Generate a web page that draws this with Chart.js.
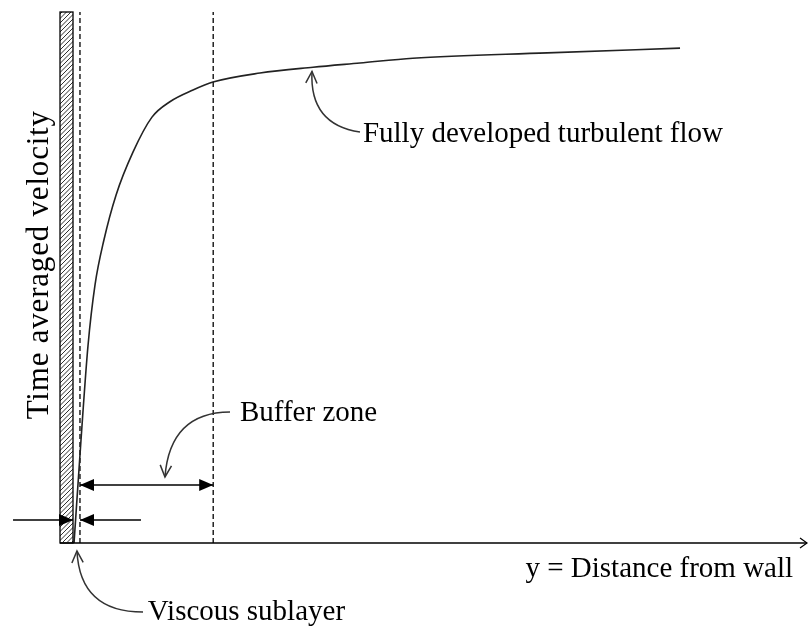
<!DOCTYPE html>
<html><head><meta charset="utf-8">
<script src="https://cdn.jsdelivr.net/npm/chart.js@4.4.0/dist/chart.umd.min.js"></script>
<style>html,body{margin:0;padding:0;background:#fff}#wrap{width:809px;height:627px}</style>
</head><body><div id="wrap"><canvas id="c" width="809" height="627"></canvas></div>
<script>
// Velocity profile (distance from wall vs time-averaged velocity), arbitrary units
const distance = [0.14, 1.09, 2.04, 3.0, 4.22, 5.86, 8.17, 10.76, 13.2, 16.35, 19.07, 25.48, 32.7, 39.1, 46.3, 64.6, 82.7];
const velocity = [0, 19.4, 37.1, 48.6, 57.1, 65.5, 73.6, 80.2, 83.1, 85.3, 86.8, 88.5, 89.6, 90.4, 91.3, 92.3, 93.2];
const zoneBounds = [0.95, 19.1];          // edge of viscous sublayer, edge of buffer zone
const wallThickness = 1.77;
const axisTitles = { x: 'y = Distance from wall', y: 'Time averaged velocity' };
const zoneLabels = ['Viscous sublayer', 'Buffer zone', 'Fully developed turbulent flow'];

const SERIF = '"Liberation Serif", "Times New Roman", serif';

const annotate = {
  id: 'annotate',
  afterDatasetsDraw(chart) {
    const ctx = chart.ctx;
    const xs = chart.scales.x, ys = chart.scales.y;
    const X = v => xs.getPixelForValue(v), Y = v => ys.getPixelForValue(v);
    ctx.save();
    ctx.strokeStyle = '#000'; ctx.fillStyle = '#000';

    // x axis line with open arrow
    const x0 = X(-wallThickness), x1 = X(100), y0 = Y(0);
    ctx.lineWidth = 1.5;
    ctx.beginPath(); ctx.moveTo(x0, y0); ctx.lineTo(x1, y0); ctx.stroke();
    ctx.lineWidth = 1.2;
    ctx.beginPath(); ctx.moveTo(x1 - 7, y0 - 5); ctx.lineTo(x1, y0); ctx.lineTo(x1 - 7, y0 + 5); ctx.stroke();

    // wall (hatched)
    const wl = X(-wallThickness), wr = X(0), wt = Y(100), wb = Y(0);
    ctx.save();
    ctx.beginPath(); ctx.rect(wl, wt, wr - wl, wb - wt); ctx.clip();
    ctx.lineWidth = 1; ctx.strokeStyle = '#333';
    const H = wb - wt;
    for (let k = -20; k < H + 20; k += 4.5) {
      ctx.beginPath(); ctx.moveTo(wl - 2, wt + k + (wr - wl) + 2); ctx.lineTo(wr + 2, wt + k - 2); ctx.stroke();
    }
    ctx.restore();
    ctx.lineWidth = 1.3;
    ctx.strokeRect(wl, wt, wr - wl, wb - wt);

    function filledHead(tx, ty, dir) {
      ctx.beginPath(); ctx.moveTo(tx, ty); ctx.lineTo(tx - 14 * dir, ty - 6); ctx.lineTo(tx - 14 * dir, ty + 6); ctx.closePath(); ctx.fill();
    }
    function hArrow(a, b, v, headA, headB) {
      const ya = Y(v), pa = X(a), pb = X(b);
      ctx.lineWidth = 1.5;
      ctx.beginPath(); ctx.moveTo(pa, ya); ctx.lineTo(pb, ya); ctx.stroke();
      const dir = pb > pa ? 1 : -1;
      if (headB) filledHead(pb, ya, dir);
      if (headA) filledHead(pa, ya, -dir);
    }
    // viscous sublayer arrows
    hArrow(-8.17, 0, 4.33, false, true);
    hArrow(9.26, zoneBounds[0], 4.33, false, true);
    // buffer zone double arrow
    hArrow(zoneBounds[0], zoneBounds[1], 10.9, true, true);

    function curvedArrow(s, c, t) {
      const sx = X(s[0]), sy = Y(s[1]), cx = X(c[0]), cy = Y(c[1]), tx = X(t[0]), ty = Y(t[1]);
      ctx.strokeStyle = '#333'; ctx.lineWidth = 1.5;
      ctx.beginPath(); ctx.moveTo(sx, sy); ctx.quadraticCurveTo(cx, cy, tx, ty); ctx.stroke();
      const ang = Math.atan2(ty - cy, tx - cx);
      const L = 13, A = 0.45;
      ctx.beginPath();
      ctx.moveTo(tx - L * Math.cos(ang - A), ty - L * Math.sin(ang - A));
      ctx.lineTo(tx, ty);
      ctx.lineTo(tx - L * Math.cos(ang + A), ty - L * Math.sin(ang + A));
      ctx.stroke();
      ctx.strokeStyle = '#000';
    }
    curvedArrow([21.39, 24.67], [13.2, 24.6], [12.53, 12.43]);
    curvedArrow([39.1, 77.4], [32.2, 78.8], [32.56, 88.8]);
    curvedArrow([9.54, -13.0], [0.95, -13.0], [0.54, -1.5]);

    // texts
    ctx.fillStyle = '#000';
    ctx.textBaseline = 'alphabetic'; ctx.textAlign = 'left';
    ctx.font = '29px ' + SERIF;
    ctx.fillText(zoneLabels[1], X(22.75), Y(22.98));
    ctx.fillText(zoneLabels[2], X(39.5), Y(75.5));
    ctx.fillText(zoneLabels[0], X(10.2), Y(-14.5));
    ctx.textAlign = 'right';
    ctx.fillText(axisTitles.x, X(98.1), Y(-6.4));
    ctx.save();
    ctx.translate(X(-4.5), Y(52.4)); ctx.rotate(-Math.PI / 2);
    ctx.textAlign = 'center'; ctx.textBaseline = 'middle';
    ctx.font = '31px ' + SERIF;
    if ('letterSpacing' in ctx) ctx.letterSpacing = '0.8px';
    ctx.fillText(axisTitles.y, 0, 0);
    ctx.restore();
    ctx.restore();
  }
};

const dashStyle = { borderColor: '#000', borderWidth: 1.3, borderDash: [5, 3], pointRadius: 0, fill: false };

new Chart(document.getElementById('c'), {
  type: 'line',
  data: {
    datasets: [
      { label: 'profile', data: distance.map((d, i) => ({ x: d, y: velocity[i] })), borderColor: '#222', borderWidth: 1.6, pointRadius: 0, cubicInterpolationMode: 'monotone', fill: false },
      Object.assign({ label: 'sublayer edge', data: [{ x: zoneBounds[0], y: 0 }, { x: zoneBounds[0], y: 100 }] }, dashStyle),
      Object.assign({ label: 'buffer edge', data: [{ x: zoneBounds[1], y: 0 }, { x: zoneBounds[1], y: 100 }] }, dashStyle)
    ]
  },
  options: {
    responsive: false, animation: false, devicePixelRatio: 1,
    layout: { padding: { left: 73, top: 12, right: 2, bottom: 84 } },
    plugins: { legend: { display: false }, tooltip: { enabled: false } },
    scales: {
      x: { type: 'linear', min: 0, max: 100, display: false },
      y: { type: 'linear', min: 0, max: 100, display: false }
    }
  },
  plugins: [annotate]
});
</script></body></html>
